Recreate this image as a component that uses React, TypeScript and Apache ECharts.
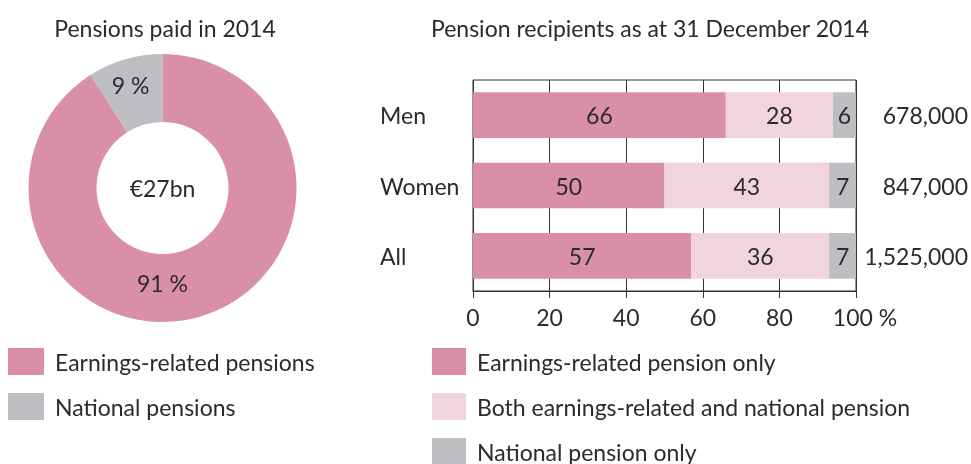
import React, { useEffect, useRef } from "react";
import * as echarts from "echarts";

const pieNames = ["Earnings-related pensions", "National pensions"];
const pieValues = [91, 9];
const totalPaid = "€27bn";

const groups = ["Men", "Women", "All"];
const barNames = [
  "Earnings-related pension only",
  "Both earnings-related and national pension",
  "National pension only",
];
const earningsOnly = [66, 50, 57];
const bothPensions = [28, 43, 36];
const nationalOnly = [6, 7, 7];
const recipientTotals = ["678,000", "847,000", "1,525,000"];
const xTicks = [0, 20, 40, 60, 80, 100];

const PINK = "#d990a7";
const LIGHT = "#f2d4dd";
const GREY = "#bdbec1";
const TXT = "#2b2b2b";
const FONT = "Lato";
const FS = 23;

export default function App() {
  const ref = useRef<HTMLDivElement>(null);
  useEffect(() => {
    document.body.style.margin = "0";
    const chart = echarts.init(ref.current!, null, { renderer: "svg" });
    const cx = 162.5;
    const cy = 188;
    const barSeries = [earningsOnly, bothPensions, nationalOnly].map((vals, i) => ({
      type: "bar",
      name: barNames[i],
      stack: "total",
      data: vals,
      barCategoryGap: "35%",
      itemStyle: { color: [PINK, LIGHT, GREY][i] },
      label: {
        show: true,
        position: "inside",
        formatter: "{c}",
        fontFamily: FONT,
        fontSize: FS,
        color: TXT,
      },
      xAxisIndex: 0,
      yAxisIndex: 0,
    }));
    const legendText = { fontFamily: FONT, fontSize: FS, color: TXT, padding: [0, 0, 0, 6] };
    chart.setOption({
      animation: false,
      textStyle: { fontFamily: FONT, color: TXT },
      title: [
        {
          text: "Pensions paid in 2014",
          left: 160,
          textAlign: "center",
          top: 11,
          textStyle: { fontFamily: FONT, fontSize: FS, fontWeight: "normal", color: TXT },
        },
        {
          text: "Pension recipients as at 31 December 2014",
          left: 645,
          textAlign: "center",
          top: 11,
          textStyle: { fontFamily: FONT, fontSize: FS, fontWeight: "normal", color: TXT },
        },
      ],
      graphic: [
        {
          type: "text",
          x: cx,
          y: cy,
          style: {
            text: totalPaid,
            align: "center",
            verticalAlign: "middle",
            fontFamily: FONT,
            fontSize: FS,
            fill: TXT,
          },
        },
      ],
      legend: [
        {
          data: pieNames,
          orient: "vertical",
          left: 8,
          top: 348,
          height: 160,
          padding: 0,
          itemWidth: 36,
          itemHeight: 27,
          itemGap: 18,
          icon: "rect",
          selectedMode: false,
          textStyle: legendText,
        },
        {
          data: barNames,
          orient: "vertical",
          left: 432,
          top: 348,
          height: 160,
          padding: 0,
          itemWidth: 34,
          itemHeight: 27,
          itemGap: 18,
          icon: "rect",
          selectedMode: false,
          textStyle: legendText,
        },
      ],
      grid: {
        left: 473,
        right: 115,
        top: 80,
        bottom: 173,
        show: true,
        borderColor: "#333",
        borderWidth: 1,
        backgroundColor: "transparent",
      },
      xAxis: {
        type: "value",
        min: xTicks[0],
        max: xTicks[xTicks.length - 1],
        interval: 20,
        axisLine: { show: true, lineStyle: { color: "#333", width: 1 } },
        axisTick: { show: true, length: 7, lineStyle: { color: "#333" } },
        splitLine: { show: true, lineStyle: { color: "#333", width: 1 } },
        axisLabel: {
          margin: 14,
          fontFamily: FONT,
          fontSize: FS,
          color: TXT,
          formatter: (v: number) => (v === 100 ? "{p|100 %}" : String(v)),
          rich: { p: { fontFamily: FONT, fontSize: FS, color: TXT, padding: [0, 0, 0, 18] } },
        },
      },
      yAxis: [
        {
          type: "category",
          data: groups,
          inverse: true,
          axisLine: { show: false },
          axisTick: { show: false },
          splitLine: { show: false },
          axisLabel: { align: "left", margin: 93, fontFamily: FONT, fontSize: FS, color: TXT },
        },
        {
          type: "category",
          data: groups,
          inverse: true,
          position: "right",
          axisLine: { show: false },
          axisTick: { show: false },
          splitLine: { show: false },
          axisLabel: {
            align: "right",
            margin: 112,
            fontFamily: FONT,
            fontSize: FS,
            color: TXT,
            formatter: (_v: string, i: number) => recipientTotals[i],
          },
        },
      ],
      series: [
        {
          type: "pie",
          center: [cx, cy],
          radius: [66, 134],
          startAngle: 90,
          clockwise: true,
          data: pieNames.map((n, i) => ({
            name: n,
            value: pieValues[i],
            itemStyle: { color: [PINK, GREY][i] },
          })),
          label: {
            show: true,
            position: "inside",
            formatter: "{c} %",
            fontFamily: FONT,
            fontSize: FS,
            color: TXT,
          },
          labelLine: { show: false },
          labelLayout: (p: any) =>
            p.dataIndex === 0
              ? { x: cx, y: cy + 95, align: "center", verticalAlign: "middle" }
              : { x: cx - 32, y: cy - 103, align: "center", verticalAlign: "middle" },
          emphasis: { disabled: true },
        },
        ...barSeries,
      ],
    });
    return () => chart.dispose();
  }, []);
  return <div ref={ref} style={{ position: "fixed", left: 0, top: 0, width: 971, height: 464 }} />;
}
